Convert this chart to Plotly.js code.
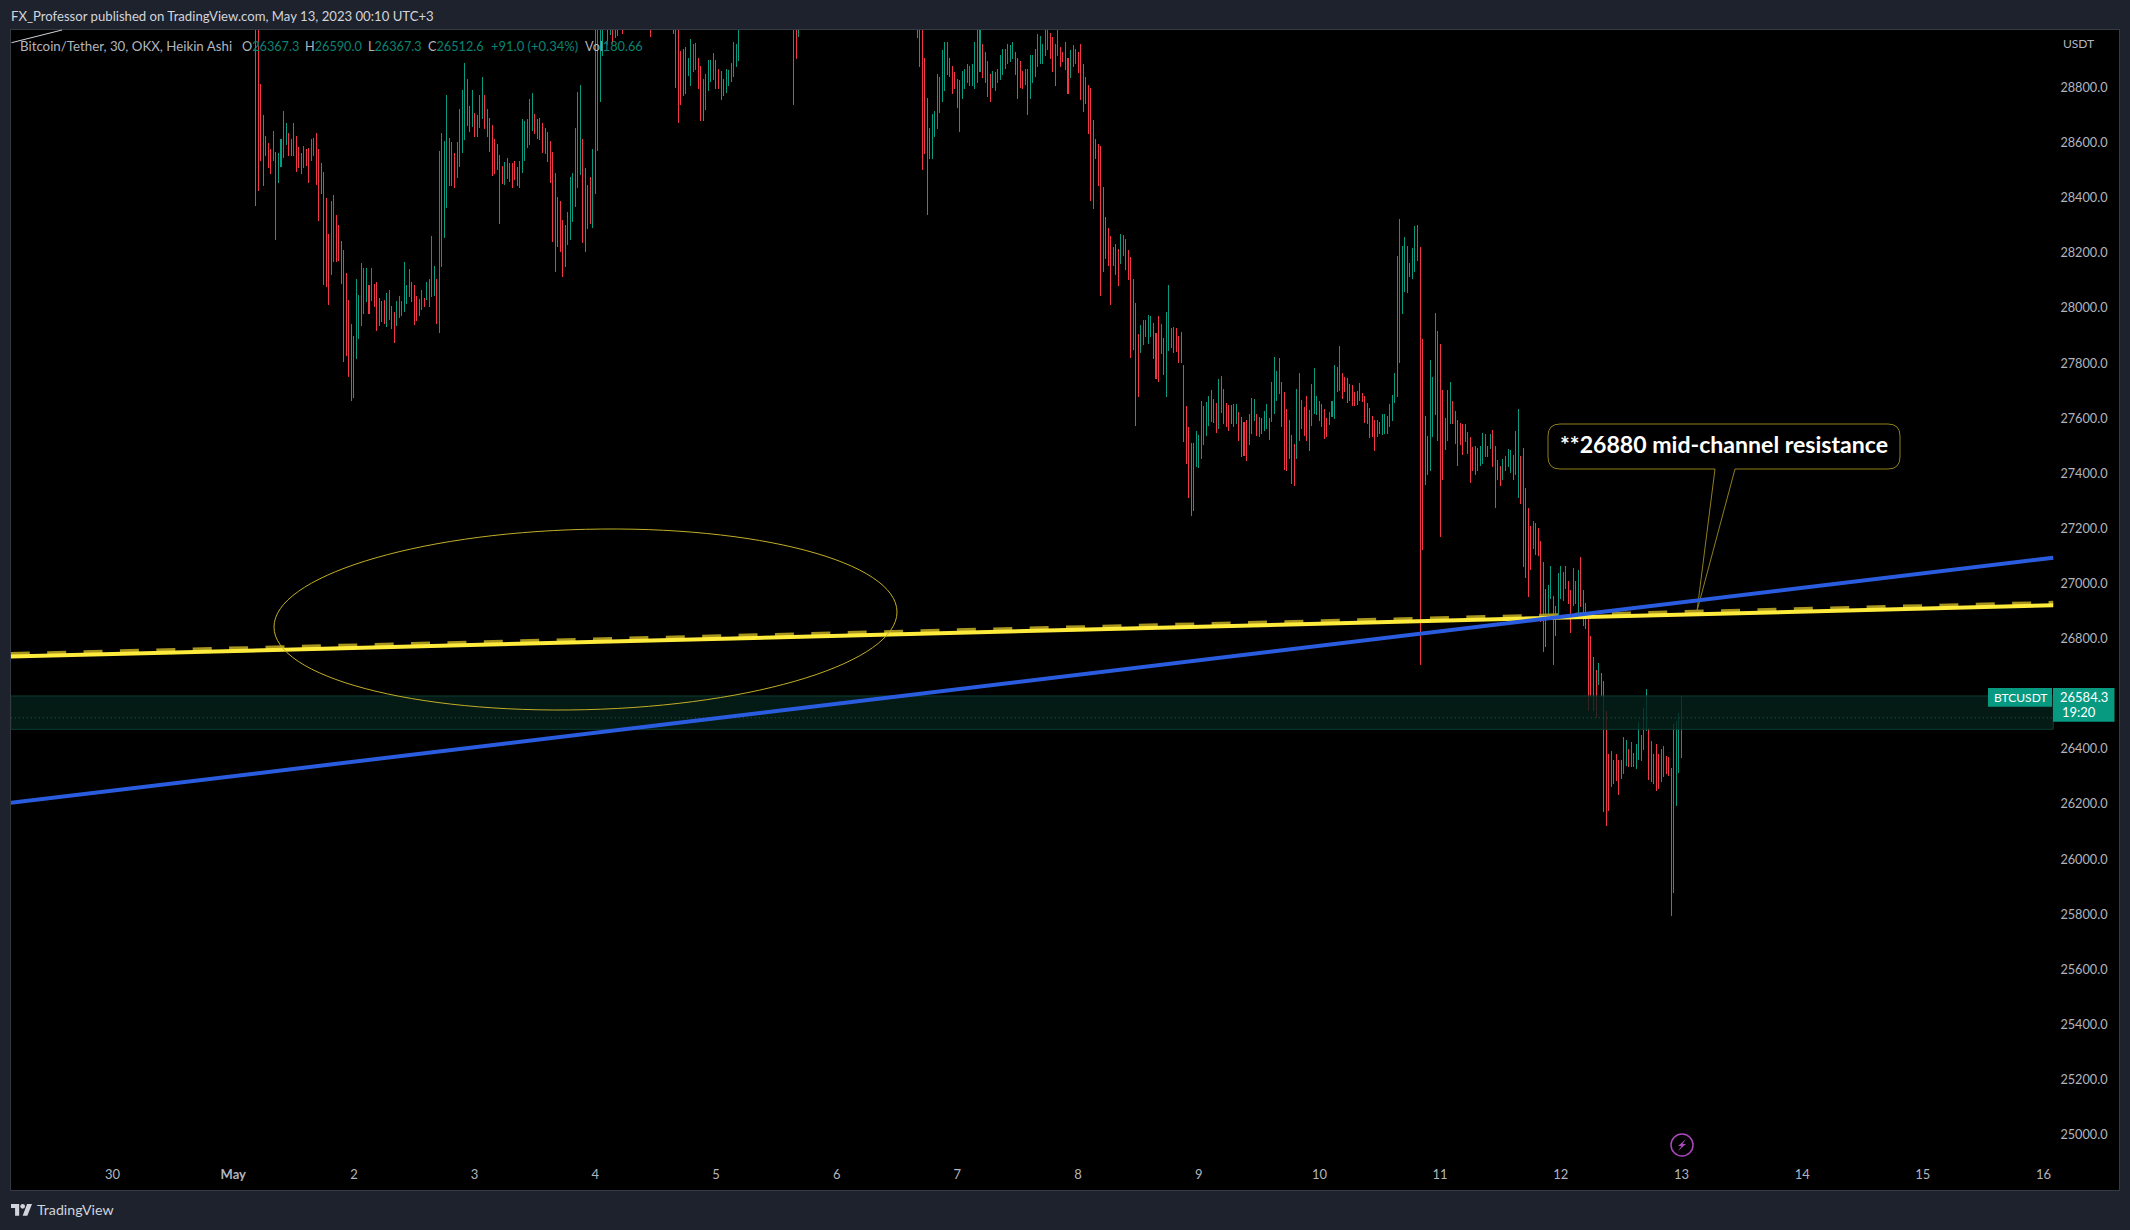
<!DOCTYPE html>
<html><head><meta charset="utf-8">
<script src="https://cdn.plot.ly/plotly-3.0.1.min.js"></script>
<style>html,body{margin:0;padding:0;background:#1e222d}#c{width:2130px;height:1230px}
.boxes path{shape-rendering:crispEdges !important}</style>
</head><body><div id="c"></div>
<script>
const C = 29060; // top of a candle that runs above the visible window
const N = null;  // candle fully above the visible window
const high = [
C,C,28813,28697,28624,28598,28577,28639,28564,28561,28610,28715,28670,28634,28612,28668,28621,28581,28561,28588,
28577,28579,28613,28616,28635,28577,28525,28492,28396,28268,28388,28410,28334,28298,28243,28207,28126,28029,27942,27898,
28102,28047,28160,28144,28143,28083,28145,28087,28094,28035,28023,28029,28053,28065,28005,27983,28023,28041,28023,28167,
28083,28138,28093,28080,28041,28031,28063,28035,28092,28102,28261,28152,28105,28567,28634,28604,28773,28617,28602,28559,
28600,28719,28788,28889,28828,28733,28791,28706,28700,28771,28835,28773,28719,28688,28664,28612,28594,28555,28513,28527,
28543,28525,28523,28531,28510,28530,28685,28676,28685,28755,28777,28704,28685,28687,28670,28652,28638,28606,28565,28489,
28402,28387,28318,28298,28345,28474,28489,28653,28784,28806,28610,28508,28443,28475,28577,C,C,C,C,N,
C,C,C,C,C,N,C,N,N,N,N,N,N,N,N,N,N,C,N,N,
N,N,N,N,N,N,C,C,C,28932,28939,28946,28904,28976,28955,28961,28904,28878,28828,28849,
28900,28900,28922,28900,28867,28860,28828,28864,28861,28889,28964,28958,C,N,N,N,N,N,N,N,
N,N,N,N,N,N,N,N,N,N,N,N,N,N,C,C,C,N,N,N,
N,N,N,N,N,N,N,N,N,N,N,N,N,N,N,N,N,N,N,N,
N,N,N,N,N,N,N,N,N,N,
N,N,N,N,N,N,N,N,N,N,N,N,N,C,C,C,28904,28761,28650,28704,
28715,28849,28835,28933,28964,28964,28904,28875,28853,28831,28824,28857,28864,28882,28878,28882,28962,C,C,28958,
28926,28893,28849,28860,28853,28867,28918,28940,28940,28955,28951,28965,28926,28904,28893,28857,28867,28864,28918,28918,
28940,28991,28987,28955,C,C,28998,28980,28955,C,28944,28929,28962,28907,28933,28951,28940,28926,28955,28882,
28835,28809,28795,28679,28613,28592,28588,28439,28330,28290,28258,28221,28232,28214,28268,28265,28250,28210,28185,28102,
28018,27905,27938,27953,27956,27974,27971,27945,27909,27971,27942,27891,27982,28083,27924,27931,27924,27895,27912,27793,
27642,27567,27509,27509,27551,27539,27662,27644,27658,27678,27699,27668,27654,27739,27753,27705,27654,27645,27648,27651,
27649,27622,27603,27584,27591,27612,27670,27668,27612,27602,27599,27624,27651,27599,27729,27822,27770,27818,27731,27693,
27632,27591,27539,27503,27705,27763,27666,27639,27678,27627,27724,27779,27678,27662,27651,27630,27599,27620,27662,27791,
27783,27860,27763,27748,27745,27723,27720,27693,27696,27727,27688,27678,27654,27637,27608,27593,27593,27584,27612,27612,
27606,27651,27684,27763,28186,28323,28225,28255,28225,28160,28217,28295,28301,28221,27886,27608,27535,27811,27747,27981,
27916,27869,27699,27599,27702,27729,27660,27626,27593,27581,27578,27579,27549,27530,27494,27497,27491,27499,27545,27541,
27499,27541,27557,27497,27448,27426,27451,27460,27487,27484,27463,27553,27632,27460,27491,27345,27273,27206,27227,27218,
27200,27153,27077,26980,26994,27063,26952,26918,27037,27063,27039,27061,27007,26976,27055,27007,27049,27096,26976,26928,
26874,26807,26732,26686,26710,26672,26646,26537,26378,26392,26356,26378,26359,26359,26442,26432,26396,26422,26384,26417,
26495,26450,26547,26617,26474,26426,26378,26417,26378,26396,26410,26372,26369,26327,26490,26499,26529,26590];
const low = [
28371,28428,28537,28443,28552,28509,28489,28537,28250,28454,28512,28546,28592,28552,28555,28555,28494,28509,28490,28510,
28519,28454,28537,28552,28450,28319,28416,28087,28077,28011,28120,28168,28168,28174,28089,27807,27826,27753,27666,27674,
27817,27890,27938,27981,28025,27981,28026,28007,27920,27935,27950,27944,27932,27959,27924,27874,27935,27966,27974,27987,
28017,28041,28023,27942,27954,27974,27993,28007,28031,28007,28041,28047,27944,27910,28150,28255,28364,28446,28444,28437,
28472,28515,28564,28613,28661,28640,28658,28624,28624,28654,28688,28652,28624,28567,28480,28489,28501,28305,28452,28450,
28471,28458,28437,28465,28443,28438,28491,28537,28583,28592,28646,28634,28616,28612,28566,28559,28533,28455,28243,28132,
28222,28204,28114,28152,28229,28247,28313,28370,28437,28486,28237,28204,28287,28305,28291,28414,28571,28749,28915,N,
28955,28994,28961,28982,28990,N,28997,N,N,N,N,N,N,N,N,N,N,28985,N,N,
N,N,N,N,N,N,28997,28800,28673,28740,28773,28779,28843,28807,28858,28864,28795,28679,28679,28722,
28791,28821,28831,28795,28798,28755,28771,28782,28806,28821,28840,28878,28900,N,N,N,N,N,N,N,
N,N,N,N,N,N,N,N,N,N,N,N,N,N,28737,28904,28985,N,N,N,
N,N,N,N,N,N,N,N,N,N,N,N,N,N,N,N,N,N,N,N,
N,N,N,N,N,N,N,N,N,N,
N,N,N,N,N,N,N,N,N,N,N,N,N,28981,28876,28504,28559,28341,28541,28544,
28621,28653,28708,28748,28791,28846,28842,28780,28795,28729,28642,28762,28798,28817,28809,28806,28798,28820,28857,28835,
28820,28769,28748,28802,28791,28820,28831,28849,28871,28886,28896,28904,28849,28762,28802,28798,28813,28704,28762,28817,
28842,28875,28886,28886,28918,28940,28904,28857,28809,28918,28878,28893,28864,28777,28838,28878,28886,28853,28755,28715,
28744,28635,28392,28363,28541,28446,28047,28134,28178,28156,28014,28156,28120,28083,28163,28192,28141,28105,27822,27851,
27573,27680,27840,27869,27895,27873,27898,27818,27746,27735,27836,27757,27680,27847,27858,27840,27844,27804,27804,27515,
27436,27311,27246,27264,27424,27422,27454,27506,27539,27572,27587,27584,27547,27563,27621,27581,27569,27557,27581,27569,
27581,27521,27460,27463,27446,27503,27543,27593,27539,27533,27545,27557,27563,27524,27587,27618,27666,27690,27569,27414,
27412,27454,27364,27357,27454,27518,27563,27539,27521,27484,27572,27618,27612,27591,27569,27526,27535,27579,27606,27599,
27696,27702,27672,27696,27658,27666,27648,27648,27651,27666,27660,27584,27581,27530,27533,27482,27535,27543,27541,27543,
27545,27569,27591,27656,27678,27802,27981,28059,28056,28116,28106,28132,28174,26706,27125,27361,27394,27412,27535,27612,
27521,27172,27376,27487,27521,27581,27581,27509,27430,27503,27470,27515,27472,27367,27409,27394,27409,27430,27436,27460,
27460,27491,27424,27276,27378,27355,27376,27409,27424,27402,27378,27394,27311,27291,27061,27021,26952,27051,27128,27107,
27103,26861,26752,26771,26880,26946,26706,26813,26886,26946,26940,26982,26928,26821,26922,26928,26892,26916,26846,26837,
26538,26589,26541,26514,26632,26592,26172,26121,26178,26265,26275,26284,26236,26293,26311,26338,26335,26335,26335,26327,
26363,26359,26396,26468,26289,26281,26275,26248,26257,26281,26301,26311,26305,25794,25878,26196,26313,26368];
const direction = [
"RRRRRRRGRG","GGGRRGRRRG","RRGGRRRRRR","GGRRRRRRRR","GGGGGRGRRR","RRGGRRGGGG","GGRRRRGRGG","GGRGGGGGGR",
"GGGGGRGRRG","GRRRRRRRRG","GGRRRGGGGG","GRRRRRRRRR","RRRRGGGGGG","RRRRGGGGG.","RGRRR.R...",".......R..",
"......RRRR","RRGGGGRRRG","GGGRRRRGGG","GGG.......","..........","....RRG...","..........","..........",
"..........","..........","...RRRRRRG","GGGGGGRRRR","RGGGGGGGGR","RRRGGGGGGG","GGRRRRGRGG","GGGGGGRRRG",
"RRRRGGGRRR","RRRRRRRRRR","RRRRGGRRRR","RRGGGGGRRR","GRGGRRRRRR","RRRRGGGGGG","GRRGGRRRRG","GRRRRGGGRR",
"RGGRGGGGRR","RRRRGGGRRR","GGGRRRRGGG","GGRRRRRRRG","RRRRRRGRGG","GGGGGGGGGR","GGGRRRRGGG","GRRRGGRRRR",
"RRRRRRRGGG","RGRRRRGGGG","RGGRRRRRGR","RRRRGGRRGG","GGRRGGGRRR","RRRRGRRRRG","RRRRGGRGGG","GGGGRRRRRG","GRRRRGGG"].join("");
const dayLabels = ["30","<b>May</b>","2","3","4","5","6","7","8","9","10","11","12","13","14","15","16"];
const dayTicks = [0,1,2,3,4,5,6,7,8,9,10,11,12,13,14,15,16];
const priceTicks = [25000,25200,25400,25600,25800,26000,26200,26400,26800,27000,27200,27400,27600,27800,28000,28200,28400,28600,28800];
const lastBarDay = 13, barsPerDay = 48;
const trendDays = [-0.843, 16.08];
const bluePrices = [26204, 27094];
const yellowPrices = [26735, 26921];
const yellowUpperPrices = [26744, 26930];
const bandPrices = [26471, 26592];
const lastClose = 26512.6;
const lineHeader = "FX_Professor published on TradingView.com, May 13, 2023 00:10 UTC+3";

const FONT = "Lato, 'Noto Sans', sans-serif";
const GREEN="#089981", RED="#f23645", GRAY="#b2b5be", VAL="#0a8473";
const L=11,R=2119,T=30,B=1190;
const px=x=>(x-L)/(R-L), py=y=>(B-y)/(B-T);
const P=(x,y)=>px(x)+","+py(y);

const X=[],O=[],H=[],Lo=[],Cl=[];
high.forEach((h,i)=>{ if(h===null) return;
  X.push(lastBarDay-(high.length-1-i)/barsPerDay);
  const up=direction[i]==="G";
  O.push(up?low[i]:h); Cl.push(up?h:low[i]); H.push(h); Lo.push(low[i]);
});
const trace={type:"candlestick",x:X,open:O,high:H,low:Lo,close:Cl,hoverinfo:"skip",whiskerwidth:0,
  increasing:{line:{color:GREEN,width:1},fillcolor:GREEN},
  decreasing:{line:{color:RED,width:1},fillcolor:RED}};

function pp(d,o){return Object.assign({type:"path",xref:"paper",yref:"paper",path:d},o);}
const ell=(()=>{const cx=585.5,cy=619.5,ax=311.5,ay=-7.5,bx=0,by=90.2,k=0.5523;
 const p=(u,v)=>P(cx+u*ax+v*bx,cy+u*ay+v*by);
 return "M"+p(1,0)+"C"+p(1,k)+" "+p(k,1)+" "+p(0,1)+"C"+p(-k,1)+" "+p(-1,k)+" "+p(-1,0)+"C"+p(-1,-k)+" "+p(-k,-1)+" "+p(0,-1)+"C"+p(k,-1)+" "+p(1,-k)+" "+p(1,0)+"Z";})();
const callout="M"+P(1560,424)+"L"+P(1888,424)+"Q"+P(1900,424)+" "+P(1900,436)+"L"+P(1900,457)+"Q"+P(1900,469)+" "+P(1888,469)+"L"+P(1735,469)+"L"+P(1697,611)+"L"+P(1715,469)+"L"+P(1560,469)+"Q"+P(1548,469)+" "+P(1548,457)+"L"+P(1548,436)+"Q"+P(1548,424)+" "+P(1560,424)+"Z";
const tl=(d,o)=>Object.assign({type:"line",xref:"x",yref:"y",x0:trendDays[0],x1:trendDays[1],y0:d[0],y1:d[1]},o);
const LX=11,LY=1204,S=21/36;
const logoT="M"+P(LX,LY)+"L"+P(LX+14*S,LY)+"L"+P(LX+14*S,LY+20*S)+"L"+P(LX+7*S,LY+20*S)+"L"+P(LX+7*S,LY+7*S)+"L"+P(LX,LY+7*S)+"Z";
const logoV="M"+P(LX+27.5*S,LY)+"L"+P(LX+36*S,LY)+"L"+P(LX+28*S,LY+20*S)+"L"+P(LX+20*S,LY+20*S)+"Z";
const shapes=[
 {type:"rect",xref:"x",yref:"y",x0:trendDays[0],x1:trendDays[1],y0:bandPrices[0],y1:bandPrices[1],fillcolor:"rgba(5,33,26,0.8)",line:{color:"#0c3f33",width:1}},
 {type:"line",xref:"x",yref:"y",x0:trendDays[0],x1:trendDays[1],y0:lastClose,y1:lastClose,line:{color:"#0b6e5d",width:1,dash:"1px,3px"}},
 pp(callout,{fillcolor:"#000",line:{color:"#8f7f1d",width:1}}),
 tl(yellowUpperPrices,{line:{color:"#a8951f",width:4,dash:"19px,17.4px"}}),
 tl(yellowPrices,{line:{color:"#ffeb3b",width:4}}),
 tl(bluePrices,{line:{color:"#2a5ce0",width:4}}),
 pp(ell,{line:{color:"#c2ae28",width:1},fillcolor:"rgba(0,0,0,0)"}),
 pp("M"+P(11.5,42.7)+"L"+P(62,30),{line:{color:"#d1d4dc",width:1}}),
 {type:"rect",xref:"paper",yref:"paper",x0:px(1988),x1:px(2052),y0:py(706.7),y1:py(688),fillcolor:GREEN,line:{width:0}},
 pp("M"+P(2053,688)+"L"+P(2114.5,688)+"L"+P(2114.5,721.7)+"L"+P(2053,721.7)+"Z",{fillcolor:GREEN,line:{width:0}}),
 {type:"circle",xref:"paper",yref:"paper",x0:px(1671),x1:px(1693),y0:py(1156),y1:py(1134),line:{color:"#ab47bc",width:1.5},fillcolor:"rgba(0,0,0,0)"},
 pp("M"+P(1686,1139)+"L"+P(1678,1146)+"L"+P(1681.5,1146)+"L"+P(1678,1151)+"L"+P(1686,1144)+"L"+P(1682.5,1144)+"Z",{fillcolor:"#ab47bc",line:{width:0}}),
 pp(logoT,{fillcolor:"#d1d4dc",line:{width:0}}),
 pp(logoV,{fillcolor:"#d1d4dc",line:{width:0}}),
 {type:"circle",xref:"paper",yref:"paper",x0:px(LX+16*S),x1:px(LX+24*S),y0:py(LY+8*S),y1:py(LY),fillcolor:"#d1d4dc",line:{width:0}}
];
function ann(text,x,y,size,color,xanchor,extra){return Object.assign({xref:"paper",yref:"paper",x:px(x),y:py(y),text,showarrow:false,xanchor:xanchor||"left",yanchor:"middle",font:{family:FONT,size,color},borderpad:0,borderwidth:0},extra||{});}
const v=t=>'<span style="color:'+VAL+'">'+t+'</span>';
const annotations=[
 ann(lineHeader,11,16,13.15,"#d1d4dc"),
 ann("Bitcoin/Tether, 30, OKX, Heikin Ashi",20,46,13.3,GRAY),
 ann("O"+v("26367.3"),241.5,46,12.7,GRAY),
 ann("H"+v("26590.0"),305,46,12.7,GRAY),
 ann("L"+v("26367.3"),368,46,12.7,GRAY),
 ann("C"+v("26512.6"),428,46,12.7,GRAY),
 ann("+91.0 (+0.34%)",491,46,13,VAL),
 ann("Vol"+v("180.66"),585,46,12.7,GRAY),
 ann("USDT",2094,44,12,GRAY,"right"),
 ann("<b>**26880 mid-channel resistance</b>",1724,444,23.1,"#fff","center"),
 ann("BTCUSDT",2020,697,12,"#fff","center",{}),
 ann("26584.3",2108,697,13,"#fff","right"),
 ann("19:20",2062,712,13,"#fff","left"),
 ann("TradingView",37,1209.5,14.2,"#d1d4dc")
];
const layout={width:2130,height:1230,paper_bgcolor:"#1e222d",plot_bgcolor:"#000",showlegend:false,
 margin:{l:L,r:2130-R,t:T,b:1230-B,pad:0},boxgap:0.99,dragmode:false,
 font:{family:FONT,color:GRAY,size:13},
 xaxis:{type:"linear",range:[-0.8413,16.625],tickvals:dayTicks,ticktext:dayLabels,ticklabelposition:"inside",ticklen:0,ticks:"",showgrid:false,zeroline:false,showline:true,mirror:true,linecolor:"#363a45",linewidth:1,tickfont:{family:FONT,size:13,color:GRAY},ticklabelstandoff:8,rangeslider:{visible:false},tickangle:0},
 yaxis:{type:"linear",side:"right",range:[24799,29009],tickvals:priceTicks,ticktext:priceTicks.map(p=>p.toFixed(1)),ticklabelposition:"inside",ticklen:0,ticks:"",showgrid:false,zeroline:false,showline:true,mirror:true,linecolor:"#363a45",linewidth:1,tickfont:{family:FONT,size:12.7,color:GRAY},ticklabelstandoff:11},
 shapes,annotations};
Plotly.newPlot("c",[trace],layout,{staticPlot:true,displayModeBar:false});
</script></body></html>
